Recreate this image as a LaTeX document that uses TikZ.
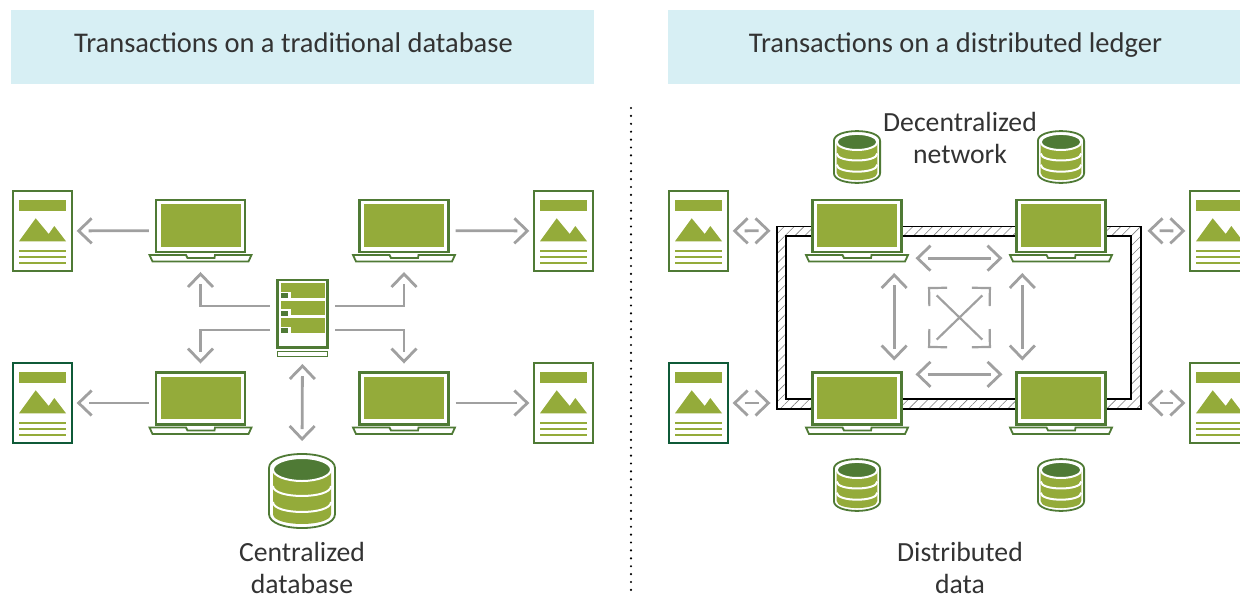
\documentclass[tikz,border=0pt]{standalone}
\usepackage{fontspec}
\setmainfont{Carlito}
\usetikzlibrary{arrows.meta, patterns.meta}

\definecolor{leafgreen}{HTML}{4F7A35}
\definecolor{darkleaf}{HTML}{0F5A38}
\definecolor{moss}{HTML}{94AB3A}
\definecolor{paleblue}{HTML}{D7EFF4}
\definecolor{flowgray}{HTML}{A0A0A0}
\definecolor{inkgray}{HTML}{333333}

% open heads that leave a gap before the line
\pgfdeclarearrow{
  name=Chevron,
  setup code={\pgfarrowssettipend{1.8pt}\pgfarrowssetlineend{-10pt}\pgfarrowssetvisualbackend{-13pt}\pgfarrowssetbackend{-13pt}},
  drawing code={\pgfsetmiterjoin\pgfpathmoveto{\pgfpoint{-13pt}{12.5pt}}\pgfpathlineto{\pgfpointorigin}\pgfpathlineto{\pgfpoint{-13pt}{-12.5pt}}\pgfusepathqstroke}
}
\pgfdeclarearrow{
  name=Corner,
  setup code={\pgfarrowssettipend{1.5pt}\pgfarrowssetlineend{-10.6pt}\pgfarrowssetvisualbackend{-12.7pt}\pgfarrowssetbackend{-12.7pt}},
  drawing code={\pgfsetmiterjoin\pgfpathmoveto{\pgfpoint{-12.7pt}{12.7pt}}\pgfpathlineto{\pgfpointorigin}\pgfpathlineto{\pgfpoint{-12.7pt}{-12.7pt}}\pgfusepathqstroke}
}

\tikzset{
  flow/.style={flowgray, line width=2.8pt},
  heading/.style={anchor=base, text=inkgray, font=\fontsize{28.5}{32}\selectfont},
  caption/.style={anchor=base, text=inkgray, align=center, font=\fontsize{27.7}{32}\selectfont},
  pics/laptop/.style={code={
    \node[inner sep=0pt, minimum width=103pt, minimum height=63pt] (-box) {};
    \filldraw[draw=leafgreen, fill=white, line width=2.4pt] (-44.5,-30.5) rectangle (44.5,21.5);
    \fill[moss] (-40,-26.5) rectangle (40,16);
    \filldraw[draw=leafgreen, fill=white, line width=1.8pt] (-51,24.5) -- (-14.5,24.5) -- (-13,27.5) -- (14,27.5) -- (14.5,24.5) -- (51,24.5) -- (48,31) -- (-48,31) -- cycle;
  }},
  pics/docicon/.default=leafgreen,
  pics/docicon/.style={code={
    \node[draw=#1, fill=white, line width=2.2pt, inner sep=0pt, minimum width=58.5pt, minimum height=80pt] (-box) {};
    \fill[moss] (-23.5,-31) rectangle (23.5,-20);
    \fill[moss] (-23.5,10.3) -- (-6.8,-12.7) -- (6.2,3) -- (11.8,-5) -- (23.5,10.3) -- cycle;
    \draw[moss, line width=2pt] (-23.5,20.3) -- (23.5,20.3);
    \draw[moss, line width=2pt] (-23.5,26.3) -- (23.5,26.3);
    \draw[moss, line width=2pt] (-23.5,32.3) -- (23.5,32.3);
  }},
  pics/server/.style={code={
    \node[inner sep=0pt, minimum width=51pt, minimum height=78pt] (-box) {};
    \filldraw[draw=leafgreen, fill=white, line width=2.2pt] (-25,-38) rectangle (25,29.5);
    \filldraw[draw=leafgreen, fill=white, line width=1.8pt] (-25,33.5) rectangle (25,38.5);
    \fill[moss] (-21.5,-35) rectangle (22.5,-20);
    \fill[moss] (-21.5,-17) rectangle (22.5,-3);
    \fill[moss] (-21.5,0) rectangle (22.5,15);
    \fill[white] (-22,-26.5) rectangle (-12,-20);
    \fill[white] (-22,-9) rectangle (-12,-3);
    \fill[white] (-22,8.5) rectangle (-12,15);
    \fill[leafgreen] (-21.5,-25) rectangle (-14.5,-20);
    \fill[leafgreen] (-21.5,-7.5) rectangle (-14.5,-2.5);
    \fill[leafgreen] (-21.5,10) rectangle (-14.5,15);
  }},
  pics/barrel/.style={code={
    \node[inner sep=0pt, minimum width=66pt, minimum height=74pt, transform shape] (-box) {};
    \filldraw[draw=leafgreen, fill=white, line width=1.8pt] (-33,-23) .. controls (-33,-41.7) and (33,-41.7) .. (33,-23) -- (33,23) .. controls (33,41.7) and (-33,41.7) .. (-33,23) -- cycle;
    \fill[moss] (-29,-22) -- (29,-22) -- (29,23) .. controls (29,36.3) and (-29,36.3) .. (-29,23) -- cycle;
    \draw[white, line width=2pt] (-29,-5) .. controls (-29,8.3) and (29,8.3) .. (29,-5);
    \draw[white, line width=2pt] (-29,11) .. controls (-29,24.3) and (29,24.3) .. (29,11);
    \filldraw[draw=white, fill=leafgreen, line width=2pt] (0,-21.5) ellipse [x radius=29pt, y radius=11.5pt];
  }},
}

\begin{document}
\begin{tikzpicture}[x=1pt,y=-1pt,>=Chevron]
  \clip (0,0) rectangle (1240,595);

% define the two headings
  \node[fill=paleblue, inner sep=0pt, minimum width=583pt, minimum height=74pt] (heada) at (302.5,47) {};
  \node[fill=paleblue, inner sep=0pt, minimum width=600pt, minimum height=74pt] (headb) at (968,47) {};
  \node[heading] (titlea) at (293.5,52) {Transactions on a traditional database};
  \node[heading] (titleb) at (955.5,52) {Transactions on a distributed ledger};

% the dotted divider
  \coordinate (dividera) at (631,108);
  \coordinate (dividerb) at (631,590);
  \draw[line width=2.4pt, line cap=round, dash pattern=on 0pt off 7.9pt] (dividera) -- (dividerb);

% the shared ledger runs behind the laptops
  \path[draw=black, line width=1.3pt, even odd rule, pattern={Lines[angle=45,distance=7pt,line width=.6pt]}, pattern color=gray]
    (777,226.5) rectangle (1141,409) (786,236) rectangle (1131,399);

% define the left hand machines
  \pic (doca) at (42.5,231) {docicon};
  \pic (docb) at (563.5,231) {docicon};
  \pic (docc) at (42.5,403) {docicon=darkleaf};
  \pic (docd) at (563.5,403) {docicon};
  \pic (lapa) at (200.5,230.5) {laptop};
  \pic (lapb) at (404,230.5) {laptop};
  \pic (lapc) at (200.5,403) {laptop};
  \pic (lapd) at (404,403) {laptop};
  \pic (srv) at (302.5,318) {server};
  \pic (dbase) at (302,491) {barrel};

% define the right hand machines
  \pic (doce) at (698.5,231) {docicon};
  \pic (docf) at (1219.5,231) {docicon};
  \pic (docg) at (698.5,403) {docicon=darkleaf};
  \pic (doch) at (1219.5,403) {docicon};
  \pic (lape) at (857,230.5) {laptop};
  \pic (lapf) at (1061,230.5) {laptop};
  \pic (lapg) at (857,403) {laptop};
  \pic (laph) at (1061,403) {laptop};
  \pic[scale=.7] (cyla) at (857,157) {barrel};
  \pic[scale=.7] (cylb) at (1061,157) {barrel};
  \pic[scale=.7] (cylc) at (857,485) {barrel};
  \pic[scale=.7] (cyld) at (1061,485) {barrel};

% define the captions
  \node[caption] (capa) at (302,561) {Centralized};
  \node[caption] (capb) at (302,593) {database};
  \node[caption] (capc) at (960,131) {Decentralized};
  \node[caption] (capd) at (960,163) {network};
  \node[caption] (cape) at (960,561) {Distributed};
  \node[caption] (capf) at (960,593) {data};

% define the links on the left
  \path[->, flow, shorten >=4pt] (lapa-box) edge (doca-box)
        (lapc-box) edge (docc-box)
        (lapb-box) edge (docb-box)
        (lapd-box) edge (docd-box);
  \draw[->, flow, shorten <=7pt, shorten >=10pt] ([yshift=12pt]srv-box.west) -| (lapa-box.south);
  \draw[->, flow, shorten <=7pt, shorten >=10pt] ([yshift=12pt]srv-box.east) -| (lapb-box.south);
  \draw[->, flow, shorten <=7pt, shorten >=8pt] ([yshift=-12pt]srv-box.west) -| (lapc-box.north);
  \draw[->, flow, shorten <=7pt, shorten >=8pt] ([yshift=-12pt]srv-box.east) -| (lapd-box.north);
  \draw[<->, flow, shorten <=7pt, shorten >=13pt] (srv-box.south) -- (dbase-box.north);

% define the links on the right
  \path[<->, flow, shorten <=4pt, shorten >=35pt] (doce-box) edge (lape-box)
        (docg-box) edge (lapg-box)
        (docf-box) edge (lapf-box)
        (doch-box) edge (laph-box);
  \draw[<->, flow, shorten <=7pt, shorten >=7pt] ([yshift=4pt]lape-box.south east) -- ([yshift=4pt]lapf-box.south west);
  \draw[<->, flow, shorten <=7pt, shorten >=7pt] ([yshift=-3pt]lapg-box.north east) -- ([yshift=-3pt]laph-box.north west);
  \draw[<->, flow, shorten <=11pt, shorten >=11pt] ([xshift=-14.5pt]lape-box.south east) -- ([xshift=-14.5pt]lapg-box.north east);
  \draw[<->, flow, shorten <=11pt, shorten >=11pt] ([xshift=13pt]lapf-box.south west) -- ([xshift=13pt]laph-box.north west);

% the crossing in the middle
  \coordinate (crossa) at (928,287);
  \coordinate (crossb) at (991,348);
  \coordinate (crossc) at (991,287);
  \coordinate (crossd) at (928,348);
  \draw[{Corner}-{Corner}, flow, line width=2.2pt] (crossa) -- (crossb);
  \draw[{Corner}-{Corner}, flow, line width=2.2pt] (crossc) -- (crossd);
\end{tikzpicture}
\end{document}
